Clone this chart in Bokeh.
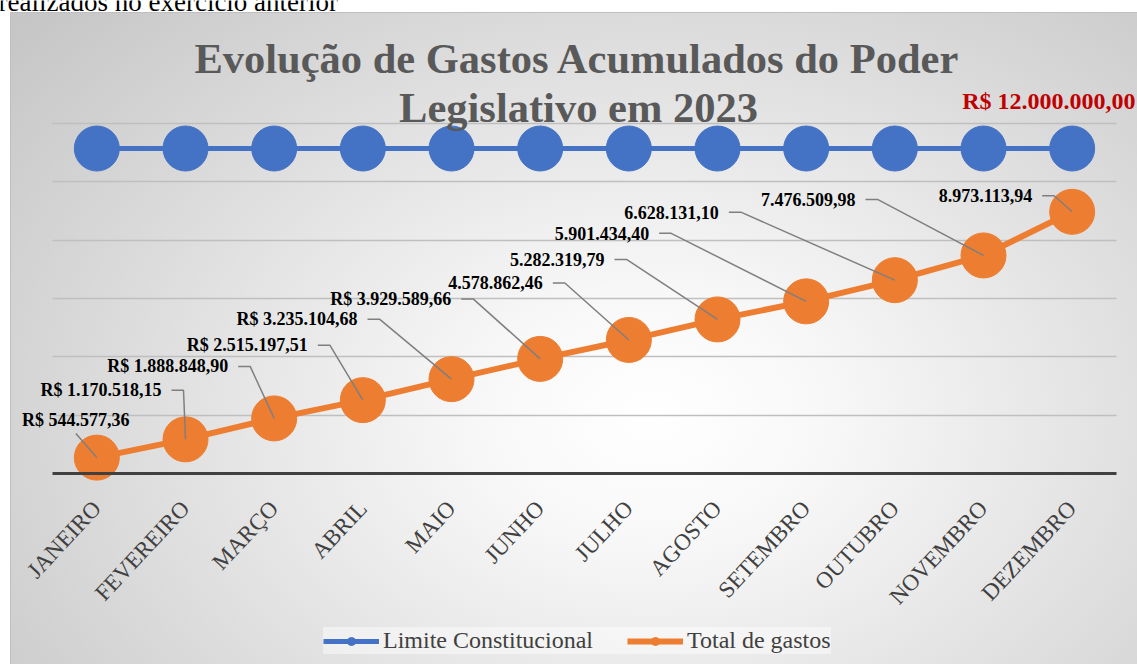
from bokeh.plotting import figure
from bokeh.models import Range1d, FixedTicker, Grid, Legend, LegendItem, Label
from bokeh.core.properties import value
from bokeh.embed import file_html
from bokeh.resources import INLINE

# ---------------- data ----------------
months = ["JANEIRO", "FEVEREIRO", "MARÇO", "ABRIL", "MAIO", "JUNHO",
          "JULHO", "AGOSTO", "SETEMBRO", "OUTUBRO", "NOVEMBRO", "DEZEMBRO"]
total_gastos = [544577.36, 1170518.15, 1888848.90, 2515197.51, 3235104.68, 3929589.66,
                4578862.46, 5282319.79, 5901434.40, 6628131.10, 7476509.98, 8973113.94]
limite_constitucional = [12000000.0, 12000000.0, 12000000.0, 12000000.0, 12000000.0, 12000000.0,
                         12000000.0, 12000000.0, 12000000.0, 12000000.0, 12000000.0, 12000000.0]
gastos_labels = ["R$ 544.577,36", "R$ 1.170.518,15", "R$ 1.888.848,90", "R$ 2.515.197,51",
                 "R$ 3.235.104,68", "R$ 3.929.589,66", "4.578.862,46", "5.282.319,79",
                 "5.901.434,40", "6.628.131,10", "7.476.509,98", "8.973.113,94"]
limite_label = "R$ 12.000.000,00"
grid_values = [2000000, 4000000, 6000000, 8000000, 10000000, 12000000]
title_line1 = "Evolução de Gastos Acumulados do Poder"
title_line2 = "Legislativo em 2023"
top_text = "realizados no exercício anterior"

# ---------------- layout / style ----------------
W, H = 1137, 664
PL, PR, PT, PB = 52, 1116, 123, 473      # pixel box of the value area
LIM_PY = 148                              # pixel row of the limit line
Y_MAX = 12000000.0
NCAT = 12
px_x = (PR - PL) / NCAT                   # pixels per category
dpy = Y_MAX / (PB - PT)                   # data units per pixel (main y)
dpy_lim = Y_MAX / (PB - LIM_PY)           # data units per pixel (limit y)

x_start = -0.5 - PL / px_x
x_end = NCAT - 0.5 + (W - PR) / px_x
y_start = -(H - PB) * dpy
y_end = Y_MAX + PT * dpy
lim_start = -(H - PB) * dpy_lim
lim_end = Y_MAX + LIM_PY * dpy_lim

# label anchor offsets (pixels, screen: +x right, +y down) relative to each point
lab_dx = [-21, -24, -46, -55, -94, -89, -86, -113, -157, -176, -128, -40]
lab_dy = [-38, -49, -52, -55, -60, -60, -57, -60, -68, -68, -56, -16]
# leader start offsets and elbow length
lead_dx = [-21, -14, -36, -45, -84, -79, -76, -103, -147, -166, -118, -30]
lead_dy = [-24, -49, -52, -55, -60, -60, -57, -60, -68, -68, -56, -16]
lead_elbow = [0, 12, 12, 12, 12, 12, 12, 12, 12, 12, 12, 12]

BLUE = "#4472C4"
ORANGE = "#ED7D31"
SERIF = "'Liberation Serif', 'Times New Roman', serif"

xs = list(range(NCAT))

p = figure(width=W, height=H, x_range=Range1d(x_start, x_end), y_range=Range1d(y_start, y_end),
           output_backend="svg", toolbar_location=None, y_axis_location=None,
           min_border=0)
p.extra_y_ranges = {"lim": Range1d(lim_start, lim_end)}
p.background_fill_color = None
p.border_fill_color = None
p.outline_line_color = None
p.styles = {
    "background": ("radial-gradient(ellipse 74% 92% at 57% 62%, #ffffff 0%, #f8f8f8 20%, #c6c6c6 100%) "
                   "11px 13px / 1126px 651px no-repeat, "
                   "linear-gradient(#bfbfbf, #bfbfbf) 10px 12px / 1127px 652px no-repeat, #ffffff")
}

for g in p.grid:
    g.visible = False
p.add_layout(Grid(dimension=1, ticker=FixedTicker(ticks=grid_values), bounds=(grid_values[0], Y_MAX),
                  cross_bounds=(-0.5, NCAT - 0.5),
                  grid_line_color="#bfbfbf", grid_line_width=1.5))

ax = p.xaxis[0]
ax.fixed_location = 0
ax.bounds = (-0.5, NCAT - 0.5)
ax.ticker = FixedTicker(ticks=xs)
ax.major_label_overrides = {i: m for i, m in enumerate(months)}
ax.major_label_orientation = 0.82
ax.major_label_text_font = SERIF
ax.major_label_text_font_size = "23px"
ax.major_label_text_color = "#404040"
ax.major_label_standoff = 25
ax.axis_line_color = "#404040"
ax.axis_line_width = 3
ax.major_tick_line_color = None
ax.minor_tick_line_color = None

# series
bl = p.line(xs, limite_constitucional, y_range_name="lim", line_color=BLUE, line_width=5)
bs = p.scatter(xs, limite_constitucional, y_range_name="lim", size=45, fill_color=BLUE, line_color=BLUE)
ol = p.line(xs, total_gastos, line_color=ORANGE, line_width=6)
osc = p.scatter(xs, total_gastos, size=45, fill_color=ORANGE, line_color=ORANGE)

# leader lines (computed from data points + pixel offsets)
lx, ly = [], []
for i, v in enumerate(total_gastos):
    sx = xs[i] + lead_dx[i] / px_x
    sy = v - lead_dy[i] * dpy
    ex = xs[i] + (lead_dx[i] + lead_elbow[i]) / px_x
    lx.append([sx, ex, xs[i]])
    ly.append([sy, sy, v])
p.multi_line(lx, ly, line_color="#7f7f7f", line_width=1.5)

# data labels
tx = [xs[i] + lab_dx[i] / px_x for i in range(NCAT)]
ty = [total_gastos[i] - lab_dy[i] * dpy for i in range(NCAT)]
p.text(tx[:1], ty[:1], text=gastos_labels[:1], text_font=value(SERIF), text_font_style="bold",
       text_font_size="18px", text_align="center", text_baseline="middle", text_color="#000000")
p.text(tx[1:], ty[1:], text=gastos_labels[1:], text_font=value(SERIF), text_font_style="bold",
       text_font_size="18px", text_align="right", text_baseline="middle", text_color="#000000")

# titles and annotations (screen units, frame == whole canvas, y from bottom)
p.add_layout(Label(x=577, y=H - 58, x_units="screen", y_units="screen", text=title_line1,
                   text_font=SERIF, text_font_style="bold", text_font_size="42.5px",
                   text_color="#595959", text_align="center", text_baseline="middle"))
p.add_layout(Label(x=578, y=H - 107, x_units="screen", y_units="screen", text=title_line2,
                   text_font=SERIF, text_font_style="bold", text_font_size="42.5px",
                   text_color="#595959", text_align="center", text_baseline="middle"))
p.add_layout(Label(x=1135, y=H - 100, x_units="screen", y_units="screen", text=limite_label,
                   text_font=SERIF, text_font_style="bold", text_font_size="24px",
                   text_color="#C00000", text_align="right", text_baseline="middle"))
p.add_layout(Label(x=-2, y=H - 1, x_units="screen", y_units="screen", text=top_text,
                   text_font=SERIF, text_font_size="27px",
                   text_color="#000000", text_align="left", text_baseline="alphabetic"))

legend = Legend(items=[LegendItem(label="Limite Constitucional", renderers=[bl, bs]),
                       LegendItem(label="Total de gastos", renderers=[ol, osc])],
                orientation="horizontal", location=(323, H - 654),
                glyph_width=56, glyph_height=20, label_standoff=4, spacing=34, padding=10,
                label_text_font=SERIF, label_text_font_size="24px", label_text_color="#404040",
                background_fill_color="#ffffff", background_fill_alpha=0.45, border_line_color=None)
p.add_layout(legend, "center")

open("out.html", "w").write(file_html(p, INLINE))
